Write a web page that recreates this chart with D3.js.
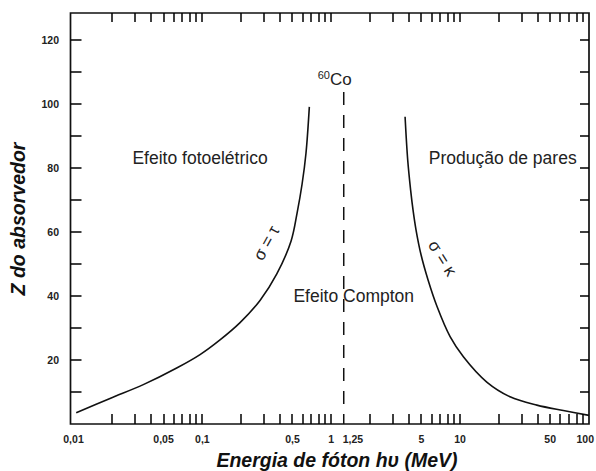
<!DOCTYPE html>
<html>
<head>
<meta charset="utf-8">
<script src="https://cdn.jsdelivr.net/npm/d3@7"></script>
<style>
  body { margin: 0; background: #fff; }
  text { font-family: "Liberation Sans", Arial, sans-serif; }
</style>
</head>
<body>
<div id="chart"></div>
<script>
const WIDTH = 596
const HEIGHT = 471

// photoelectric / Compton boundary (sigma = tau), [energy MeV, Z]
const photoCurve = [
  [0.0105, 3.5], [0.0192, 8.0], [0.0348, 12.3], [0.0632, 17.5], [0.0959, 21.7],
  [0.137, 26.3], [0.196, 31.7], [0.280, 38.6], [0.378, 46.9], [0.488, 57.2],
  [0.543, 65.9], [0.594, 75.0], [0.637, 84.7], [0.676, 99.1]
]

// Compton / pair production boundary (sigma = kappa)
const pairCurve = [
  [3.74, 96.0], [3.92, 82.5], [4.13, 73.1], [4.31, 66.9], [4.55, 60.6],
  [4.98, 52.8], [5.64, 45.0], [6.62, 36.7], [8.36, 27.3], [10.6, 21.0],
  [16.1, 13.1], [24.4, 8.5], [39.4, 5.9], [63.2, 4.2], [100, 2.7]
]

const cobaltEnergy = 1.25
const xLabelValues = [0.01, 0.05, 0.1, 0.5, 1, 1.25, 5, 10, 50, 100]
const xLabelText = ["0,01", "0,05", "0,1", "0,5", "1", "1,25", "5", "10", "50", "100"]
const yTickValues = [10, 20, 30, 40, 50, 60, 70, 80, 90, 100, 110, 120]
const yLabelValues = [20, 40, 60, 80, 100, 120]

// region labels: [energy, Z, text]
const regionLabels = [
  [0.0959, 81.3, "Efeito fotoelétrico"],
  [21.4, 81.4, "Produção de pares"],
  [1.495, 38.0, "Efeito Compton"]
]

const M_LEFT = 70.5, M_RIGHT = 589, M_TOP = 13, M_BOTTOM = 424

const x = d3.scaleLog().domain([0.01, 100]).range([73.5, M_RIGHT])
const y = d3.scaleLinear().domain([0, (M_BOTTOM - M_TOP) / 3.2]).range([M_BOTTOM, M_TOP])

const svg = d3.select("#chart")
  .append("svg")
  .attr("width", WIDTH)
  .attr("height", HEIGHT)
  .style("background", "#fff")

// frame
svg.append("path")
  .attr("d", `M${M_LEFT},${M_TOP}H${M_RIGHT}V${M_BOTTOM}H${M_LEFT}Z`)
  .attr("fill", "none")
  .attr("stroke", "#111")
  .attr("stroke-width", 1.7)

// tick labels
svg.append("g")
  .selectAll("text")
  .data(xLabelValues)
  .join("text")
  .attr("x", d => d === 1.25 ? x(d) - 1 : d === 100 ? x(d) + 5 : x(d))
  .attr("y", 443)
  .attr("text-anchor", d => d === 1.25 ? "start" : d === 100 ? "end" : "middle")
  .attr("font-size", 10.5)
  .attr("font-weight", "bold")
  .attr("fill", "#222")
  .text((d, i) => xLabelText[i])

svg.append("g")
  .selectAll("text")
  .data(yLabelValues)
  .join("text")
  .attr("x", 59)
  .attr("y", d => y(d))
  .attr("dy", "0.35em")
  .attr("text-anchor", "end")
  .attr("font-size", 10.5)
  .attr("font-weight", "bold")
  .attr("fill", "#222")
  .text(d => d)

// axis titles
svg.append("text")
  .attr("x", 337)
  .attr("y", 467)
  .attr("text-anchor", "middle")
  .attr("font-size", 19.5)
  .attr("font-weight", "bold")
  .attr("font-style", "italic")
  .attr("fill", "#111")
  .text("Energia de fóton hυ (MeV)")

svg.append("text")
  .attr("transform", "translate(25,219) rotate(-90)")
  .attr("text-anchor", "middle")
  .attr("font-size", 19.5)
  .attr("font-weight", "bold")
  .attr("font-style", "italic")
  .attr("fill", "#111")
  .text("Z do absorvedor")

// curves
const line = d3.line()
  .x(d => x(d[0]))
  .y(d => y(d[1]))
  .curve(d3.curveCatmullRom.alpha(0.5))

svg.append("path")
  .datum(photoCurve)
  .attr("d", line)
  .attr("fill", "none")
  .attr("stroke", "#111")
  .attr("stroke-width", 1.6)

svg.append("path")
  .datum(pairCurve)
  .attr("d", line)
  .attr("fill", "none")
  .attr("stroke", "#111")
  .attr("stroke-width", 1.6)

// 60Co dashed line
svg.append("line")
  .attr("x1", x(cobaltEnergy)).attr("x2", x(cobaltEnergy))
  .attr("y1", 92).attr("y2", M_BOTTOM)
  .attr("stroke", "#111")
  .attr("stroke-width", 1.5)
  .attr("stroke-dasharray", "13,10")

const co = svg.append("text")
  .attr("x", x(cobaltEnergy) - 26)
  .attr("y", 85)
  .attr("fill", "#222")
  .attr("font-size", 17)
co.append("tspan").attr("font-size", 11).attr("dy", -6).text("60")
co.append("tspan").attr("dy", 6).text("Co")

// region labels
svg.append("g")
  .selectAll("text")
  .data(regionLabels)
  .join("text")
  .attr("x", d => x(d[0]))
  .attr("y", d => y(d[1]))
  .attr("text-anchor", "middle")
  .attr("font-size", 17.5)
  .attr("fill", "#222")
  .text(d => d[2])

svg.append("text")
  .attr("transform", `translate(${x(0.312)},${y(56.6)}) rotate(-61)`)
  .attr("text-anchor", "middle")
  .attr("dy", "0.35em")
  .attr("font-size", 17)
  .attr("fill", "#222")
  .text("σ = τ")

svg.append("text")
  .attr("transform", `translate(${x(7.33)},${y(51.9)}) rotate(58)`)
  .attr("text-anchor", "middle")
  .attr("dy", "0.35em")
  .attr("font-size", 17)
  .attr("fill", "#222")
  .text("σ = κ")

// minor log ticks (2..9, 10 ...) on all four sides, pointing inward,
// drawn last as small filled bars
const logTicks = x.ticks().filter(d => d > 0.0101 && d < 99)
const ticks = svg.append("g").attr("fill", "#000")

ticks.selectAll("rect.xb")
  .data(logTicks)
  .join("rect")
  .attr("class", "xb")
  .attr("x", d => Math.round(x(d)) - 0.75)
  .attr("y", M_BOTTOM - 10)
  .attr("width", 1.5)
  .attr("height", 10)

ticks.selectAll("rect.xt")
  .data(logTicks)
  .join("rect")
  .attr("class", "xt")
  .attr("x", d => Math.round(x(d)) - 0.75)
  .attr("y", M_TOP)
  .attr("width", 1.5)
  .attr("height", 9)

ticks.selectAll("rect.yl")
  .data(yTickValues)
  .join("rect")
  .attr("class", "yl")
  .attr("x", M_LEFT)
  .attr("y", d => Math.round(y(d)) - 0.75)
  .attr("width", 11)
  .attr("height", 1.5)

ticks.selectAll("rect.yr")
  .data(yTickValues)
  .join("rect")
  .attr("class", "yr")
  .attr("x", M_RIGHT - 9)
  .attr("y", d => Math.round(y(d)) - 0.75)
  .attr("width", 9)
  .attr("height", 1.5)
</script>
</body>
</html>
